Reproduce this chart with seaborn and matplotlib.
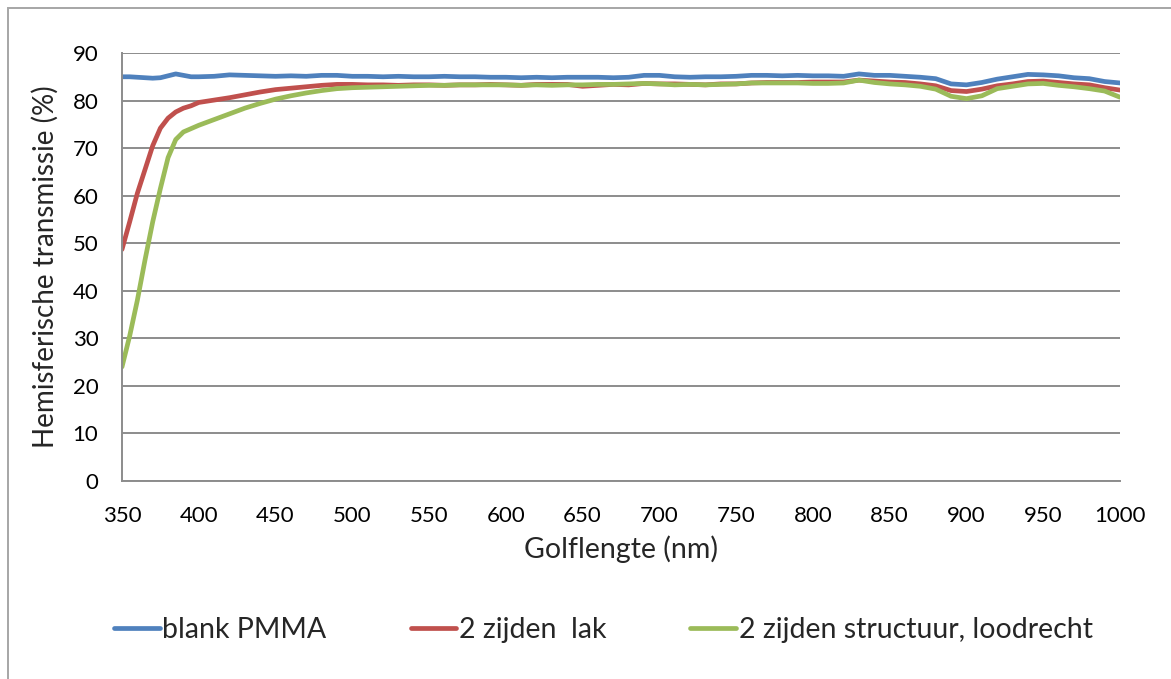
import numpy as np
import pandas as pd
import matplotlib
matplotlib.use("Agg")
import matplotlib.pyplot as plt
from matplotlib.lines import Line2D
from matplotlib.patches import Rectangle
import seaborn as sns

wavelength = [350, 355, 360, 365, 370, 375, 380, 385, 390, 395, 400,
              410, 420, 430, 440, 450, 460, 470, 480, 490, 500,
              510, 520, 530, 540, 550, 560, 570, 580, 590, 600,
              610, 620, 630, 640, 650, 660, 670, 680, 690, 700,
              710, 720, 730, 740, 750, 760, 770, 780, 790, 800,
              810, 820, 830, 840, 850, 860, 870, 880, 890, 900,
              910, 920, 930, 940, 950, 960, 970, 980, 990, 1000]

blank_pmma = [85.0, 85.0, 84.9, 84.8, 84.7, 84.8, 85.2, 85.6, 85.3, 85.0, 85.0,
              85.1, 85.4, 85.3, 85.2, 85.1, 85.2, 85.1, 85.3, 85.3, 85.1,
              85.1, 85.0, 85.1, 85.0, 85.0, 85.1, 85.0, 85.0, 84.9, 84.9,
              84.8, 84.9, 84.8, 84.9, 84.9, 84.9, 84.8, 84.9, 85.3, 85.3,
              85.0, 84.9, 85.0, 85.0, 85.1, 85.3, 85.3, 85.2, 85.3, 85.2,
              85.2, 85.1, 85.6, 85.3, 85.3, 85.1, 84.9, 84.6, 83.5, 83.3,
              83.8, 84.5, 85.0, 85.5, 85.4, 85.2, 84.8, 84.6, 84.0, 83.7]

lak_2_zijden = [48.7, 54.5, 60.5, 65.5, 70.5, 74.2, 76.3, 77.6, 78.4, 78.9, 79.6,
                80.1, 80.6, 81.2, 81.8, 82.3, 82.6, 82.9, 83.2, 83.4, 83.4,
                83.3, 83.3, 83.2, 83.3, 83.3, 83.2, 83.3, 83.3, 83.4, 83.3,
                83.2, 83.4, 83.4, 83.4, 83.0, 83.2, 83.4, 83.3, 83.6, 83.5,
                83.5, 83.4, 83.3, 83.5, 83.5, 83.7, 83.8, 83.8, 83.8, 83.9,
                83.9, 83.9, 84.3, 84.1, 83.9, 83.8, 83.5, 83.1, 82.1, 81.9,
                82.4, 83.1, 83.5, 84.0, 84.1, 83.8, 83.5, 83.3, 82.7, 82.2]

structuur_loodrecht = [24.0, 30.5, 38.0, 46.5, 54.5, 61.5, 68.0, 71.8, 73.4, 74.1, 74.8,
                       76.0, 77.2, 78.4, 79.4, 80.3, 81.0, 81.6, 82.1, 82.5, 82.7,
                       82.8, 82.9, 83.0, 83.1, 83.2, 83.2, 83.3, 83.3, 83.3, 83.3,
                       83.2, 83.3, 83.2, 83.3, 83.3, 83.4, 83.4, 83.5, 83.6, 83.5,
                       83.3, 83.4, 83.3, 83.4, 83.5, 83.7, 83.7, 83.7, 83.7, 83.6,
                       83.6, 83.7, 84.3, 83.8, 83.5, 83.3, 83.0, 82.4, 80.9, 80.4,
                       81.0, 82.5, 83.0, 83.5, 83.6, 83.2, 82.9, 82.5, 82.0, 80.7]

series_names = ["blank PMMA", "2 zijden  lak", "2 zijden structuur, loodrecht"]
series_colors = ["#4F81BD", "#C0504D", "#9BBB59"]
x_ticks = list(range(350, 1001, 50))
y_ticks = list(range(0, 91, 10))

df = pd.concat([
    pd.DataFrame({"Golflengte": wavelength, "T": vals, "serie": name})
    for name, vals in zip(series_names, [blank_pmma, lak_2_zijden, structuur_loodrecht])
])

sns.set_theme(style="white")
plt.rcParams["font.family"] = ["Lato", "DejaVu Sans"]

fig = plt.figure(figsize=(11.71, 6.79), dpi=100)
ax = fig.add_axes([122 / 1171, 1 - 481 / 679, (1120 - 122) / 1171, (481 - 53) / 679])

sns.lineplot(data=df, x="Golflengte", y="T", hue="serie", hue_order=series_names,
             palette=series_colors, linewidth=3.4, ax=ax, legend=False,
             solid_capstyle="round", solid_joinstyle="round")

grid_col = "#8c8c8c"
ax.set_xlim(350, 1000)
ax.set_ylim(0, 90)
ax.set_xticks(x_ticks)
ax.set_yticks(y_ticks)
ax.yaxis.grid(True, color=grid_col, linewidth=1.4)
ax.set_axisbelow(True)
for side in ["top", "right"]:
    ax.spines[side].set_visible(False)
for side in ["left", "bottom"]:
    ax.spines[side].set_color(grid_col)
    ax.spines[side].set_linewidth(1.4)
ax.tick_params(axis="both", which="major", direction="out", length=7,
               width=1.4, color=grid_col, labelsize=16, labelcolor="black")
ax.tick_params(axis="y", pad=10)
ax.tick_params(axis="x", pad=11)
ax.set_xlabel("Golflengte (nm)", fontsize=20.5, labelpad=7)
ax.set_ylabel("Hemisferische transmissie (%)", fontsize=20, labelpad=10)

handles = [Line2D([0], [0], color=c, linewidth=3.4, solid_capstyle="round") for c in series_colors]
fig.legend(handles, series_names, loc="center left", bbox_to_anchor=(114 / 1171, 1 - 630 / 679),
           ncol=3, frameon=False, fontsize=20.5, handlelength=1.6, handletextpad=0.1,
           columnspacing=2.95, borderaxespad=0, borderpad=0)

fig.add_artist(Rectangle((8 / 1171, -0.05), 1.1, 1.05 - 8 / 679, transform=fig.transFigure,
                         fill=False, edgecolor="#a6a6a6", linewidth=1.4))

fig.savefig("out.png", dpi=100, facecolor="white")
